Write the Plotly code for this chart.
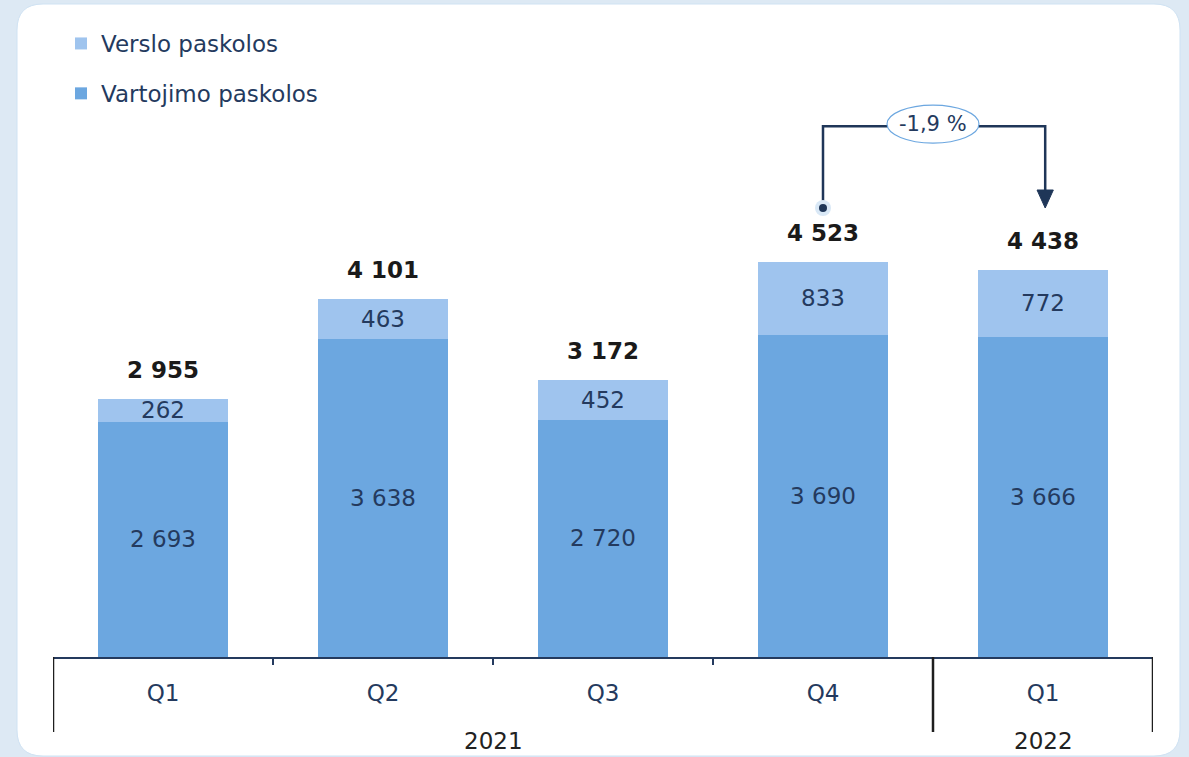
import plotly.graph_objects as go

# ---- data ----
years = ["2021", "2021", "2021", "2021", "2022"]
quarters = ["Q1", "Q2", "Q3", "Q4", "Q1"]
vartojimo = [2693, 3638, 2720, 3690, 3666]
verslo = [262, 463, 452, 833, 772]
totals = [2955, 4101, 3172, 4523, 4438]
change_label = "-1,9 %"

NAVY = "#243a5e"
DARK = "#6ca7e0"
LIGHT = "#9fc4ee"
BG = "#dde9f4"
FONT = "DejaVu Sans"
FS = 23

W, H = 1189, 757
ML, MR, MT, MB = 53, 36, 100, 100
PW = W - ML - MR
PH = H - MT - MB
YMAX = 6380

def px_x(p):  # pixel -> paper x
    return (p - ML) / PW

def px_y(p):  # pixel -> paper y
    return (H - MB - p) / PH

xs = list(range(len(quarters)))

fig = go.Figure()
fig.add_trace(go.Bar(
    x=xs, y=vartojimo, name="Vartojimo paskolos", marker_color=DARK,
    marker_line_width=0,
    legendgroup="a", legendrank=2, width=0.59,
    texttemplate="%{y:,}", textposition="inside", insidetextanchor="middle",
    textangle=0, textfont=dict(size=FS, color=NAVY, family=FONT),
))
fig.add_trace(go.Bar(
    x=xs, y=verslo, name="Verslo paskolos", marker_color=LIGHT,
    marker_line_width=0,
    legendgroup="b", legendrank=1, width=0.59,
    texttemplate="%{y:,}", textposition="inside", insidetextanchor="middle",
    textangle=0, textfont=dict(size=FS, color=NAVY, family=FONT),
))

annotations = []
for i, t in enumerate(totals):
    annotations.append(dict(
        x=i, y=t, xref="x", yref="y", text=f"<b>{t:,}</b>".replace(",", " "),
        showarrow=False, yshift=29, yanchor="middle",
        font=dict(size=FS, color="#1a1a1a", family=FONT),
    ))

# year labels
annotations.append(dict(x=1.5, y=px_y(741), xref="x", yref="paper", text="2021",
                        showarrow=False, yanchor="middle",
                        font=dict(size=FS, color="#222222", family=FONT)))
annotations.append(dict(x=4, y=px_y(741), xref="x", yref="paper", text="2022",
                        showarrow=False, yanchor="middle",
                        font=dict(size=FS, color="#222222", family=FONT)))

# change bracket
START_Y = totals[3] + 620
TOP_Y = 6080
ARROW_BASE = 5349
END_Y = 5143
annotations.append(dict(x=3.5, y=(6322 + 5887) / 2, xref="x", yref="y", text=change_label,
                        showarrow=False, font=dict(size=21, color=NAVY, family=FONT)))

# card
x0, x1 = px_x(17), px_x(1180)
y0, y1 = px_y(756), px_y(4)
rx, ry = 26 / PW, 26 / PH
card_path = (f"M {x0+rx},{y1} L {x1-rx},{y1} Q {x1},{y1} {x1},{y1-ry} "
             f"L {x1},{y0+ry} Q {x1},{y0} {x1-rx},{y0} L {x0+rx},{y0} "
             f"Q {x0},{y0} {x0},{y0+ry} L {x0},{y1-ry} Q {x0},{y1} {x0+rx},{y1} Z")

shapes = [
    dict(type="path", xref="paper", yref="paper", path=card_path,
         fillcolor="white", line=dict(color="#cfe2f3", width=1), layer="below"),
]
# boundary ticks
for b in [0.5, 1.5, 2.5]:
    shapes.append(dict(type="line", xref="x", yref="paper", x0=b, x1=b, y0=0, y1=-8 / PH,
                       line=dict(color=NAVY, width=2)))
# group dividers
for b in [-0.5, 3.5, 4.5]:
    shapes.append(dict(type="line", xref="x", yref="paper", x0=b, x1=b, y0=0, y1=-75 / PH,
                       line=dict(color="#1e1e1e", width=2.5)))
# bracket
shapes.append(dict(type="path", xref="x", yref="y",
                   path=f"M 3,{START_Y} L 3,{TOP_Y} L 4.01,{TOP_Y} L 4.01,{ARROW_BASE}",
                   line=dict(color="#1f3658", width=2.5)))
shapes.append(dict(type="path", xref="x", yref="y",
                   path=f"M 3.973,{ARROW_BASE} L 4.047,{ARROW_BASE} L 4.01,{END_Y} Z",
                   fillcolor="#1f3658", line=dict(color="#1f3658", width=1)))
shapes.append(dict(type="circle", xref="x", yref="y", xsizemode="pixel", ysizemode="pixel",
                   xanchor=3, yanchor=START_Y, x0=-8, x1=8, y0=-8, y1=8,
                   fillcolor="#d9e8f6", line=dict(width=0)))
shapes.append(dict(type="circle", xref="x", yref="y", xsizemode="pixel", ysizemode="pixel",
                   xanchor=3, yanchor=START_Y, x0=-4, x1=4, y0=-4, y1=4,
                   fillcolor="#1f3658", line=dict(width=0)))
shapes.append(dict(type="circle", xref="x", yref="y", x0=3.5 - 0.209, x1=3.5 + 0.209,
                   y0=5887, y1=6322, fillcolor="white", line=dict(color=DARK, width=1.2)))

fig.update_layout(
    width=W, height=H,
    margin=dict(l=ML, r=MR, t=MT, b=MB),
    paper_bgcolor=BG, plot_bgcolor="rgba(0,0,0,0)",
    barmode="stack", separators=", ",
    uniformtext=dict(minsize=FS, mode="show"),
    font=dict(family=FONT, color=NAVY, size=FS),
    showlegend=True,
    legend=dict(x=px_x(61), y=px_y(22), xanchor="left", yanchor="top",
                traceorder="grouped", tracegroupgap=17,
                bgcolor="rgba(0,0,0,0)", font=dict(size=FS, color=NAVY, family=FONT)),
    xaxis=dict(range=[-0.5, 4.5], tickmode="array", tickvals=xs, ticktext=quarters,
               showline=True, linecolor=NAVY, linewidth=2, showgrid=False, zeroline=False,
               ticks="", ticklabelstandoff=14,
               tickfont=dict(size=FS, color=NAVY, family=FONT), fixedrange=True),
    yaxis=dict(range=[0, YMAX], visible=False, fixedrange=True),
    annotations=annotations,
    shapes=shapes,
    hovermode=False,
)

fig.write_html("out.html", config={"displayModeBar": False},
               post_script="document.body.style.margin='0';document.body.style.overflow='hidden';")
